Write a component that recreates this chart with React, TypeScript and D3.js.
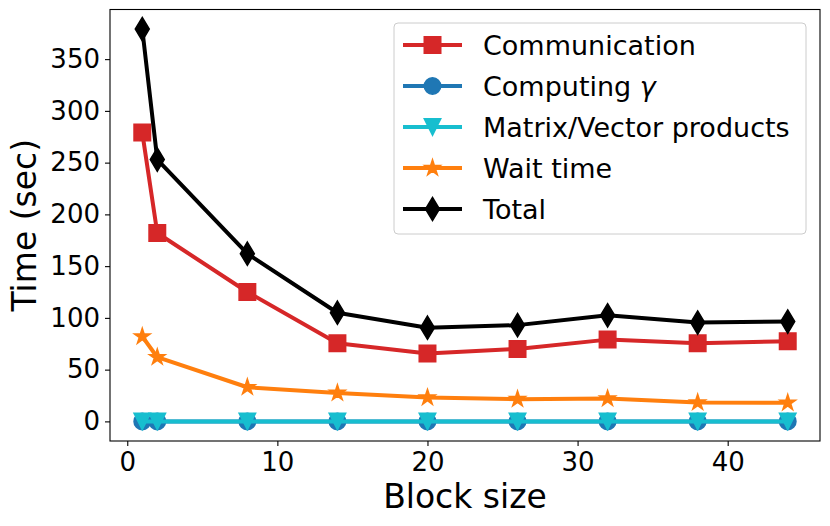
import { useEffect, useRef } from "react"
import * as d3 from "d3"

const WIDTH = 830
const HEIGHT = 526
const FONT = "'DejaVu Sans', sans-serif"

const blockSizes = [1, 2, 8, 14, 20, 26, 32, 38, 44]
const communication = [279, 182, 125, 75.5, 65.5, 70, 79, 75.5, 77.5]
const computingGamma = [0, 0, 0, 0, 0, 0, 0, 0, 0]
const matrixVector = [0, 0, 0, 0, 0, 0, 0, 0, 0]
const waitTime = [82, 62, 33, 27.5, 23, 21.5, 22, 18.3, 18]
const total = [379, 253, 162, 105, 90.5, 93, 102.5, 95.5, 96.5]

const xTicks = [0, 10, 20, 30, 40]
const yTicks = [0, 50, 100, 150, 200, 250, 300, 350]

type MarkerKind = "square" | "circle" | "triangleDown" | "star" | "thinDiamond"

interface Series {
  label: string
  values: number[]
  color: string
  marker: MarkerKind
}

const series: Series[] = [
  { label: "Communication", values: communication, color: "#d62728", marker: "square" },
  { label: "Computing γ", values: computingGamma, color: "#1f77b4", marker: "circle" },
  { label: "Matrix/Vector products", values: matrixVector, color: "#17becf", marker: "triangleDown" },
  { label: "Wait time", values: waitTime, color: "#ff7f0e", marker: "star" },
  { label: "Total", values: total, color: "#000000", marker: "thinDiamond" },
]

const MS = 16.5 // marker size in px

function markerPath(kind: MarkerKind, m: number): string {
  const h = m / 2
  switch (kind) {
    case "square":
      return `M${-h},${-h}H${h}V${h}H${-h}Z`
    case "circle": {
      const p = d3.path()
      p.arc(0, 0, h, 0, Math.PI * 2)
      p.closePath()
      return p.toString()
    }
    case "triangleDown":
      return `M0,${h}L${-h},${-h}L${h},${-h}Z`
    case "star": {
      const inner = h * 0.381966
      const pts: string[] = []
      for (let i = 0; i < 10; i++) {
        const r = i % 2 === 0 ? h : inner
        const a = -Math.PI / 2 + (i * Math.PI) / 5
        pts.push(`${r * Math.cos(a)},${r * Math.sin(a)}`)
      }
      return "M" + pts.join("L") + "Z"
    }
    case "thinDiamond": {
      const dy = m * 0.7071
      const dx = dy * 0.6
      return `M0,${-dy}L${dx},0L0,${dy}L${-dx},0Z`
    }
  }
}

export default function App() {
  const svgRef = useRef<SVGSVGElement | null>(null)

  useEffect(() => {
    document.body.style.margin = "0"
    if (!svgRef.current) return
    const svg = d3.select(svgRef.current)
    svg.selectAll("*").remove()

    const left = 110
    const right = 820
    const top = 9.5
    const bottom = 441

    const x = d3.scaleLinear().domain([-1.15, 46.15]).range([left, right])
    const y = d3.scaleLinear().domain([-18.95, 397.95]).range([bottom, top])

    svg.append("rect").attr("width", WIDTH).attr("height", HEIGHT).attr("fill", "white")

    const line = d3
      .line<number>()
      .x((_, i) => x(blockSizes[i]))
      .y((d) => y(d))

    series.forEach((s) => {
      const g = svg.append("g")
      g.append("path")
        .attr("d", line(s.values))
        .attr("fill", "none")
        .attr("stroke", s.color)
        .attr("stroke-width", 4)
        .attr("stroke-linejoin", "round")
        .attr("stroke-linecap", "square")
      g.selectAll("path.marker")
        .data(s.values)
        .join("path")
        .attr("class", "marker")
        .attr("d", markerPath(s.marker, MS))
        .attr("transform", (d, i) => `translate(${x(blockSizes[i])},${y(d)})`)
        .attr("fill", s.color)
        .attr("stroke", s.color)
        .attr("stroke-width", 1.5)
        .attr("stroke-linejoin", "miter")
    })

    // axes
    const xAxis = svg
      .append("g")
      .attr("transform", `translate(0,${bottom})`)
      .call(d3.axisBottom(x).tickValues(xTicks).tickSize(5).tickPadding(7).tickFormat(d3.format("d")))
    const yAxis = svg
      .append("g")
      .attr("transform", `translate(${left},0)`)
      .call(d3.axisLeft(y).tickValues(yTicks).tickSize(5).tickPadding(5).tickFormat(d3.format("d")))
    ;[xAxis, yAxis].forEach((a) => {
      a.select(".domain").remove()
      a.selectAll(".tick line").attr("stroke", "#000").attr("stroke-width", 1.1)
      a.selectAll(".tick text").attr("fill", "#000").style("font-family", FONT).style("font-size", "26px")
    })

    // frame
    svg
      .append("rect")
      .attr("x", left)
      .attr("y", top)
      .attr("width", right - left)
      .attr("height", bottom - top)
      .attr("fill", "none")
      .attr("stroke", "#000")
      .attr("stroke-width", 1.1)

    // axis labels
    svg
      .append("text")
      .attr("x", (left + right) / 2)
      .attr("y", 508)
      .attr("text-anchor", "middle")
      .style("font-family", FONT)
      .style("font-size", "33px")
      .text("Block size")
    svg
      .append("text")
      .attr("transform", `translate(36,${(top + bottom) / 2}) rotate(-90)`)
      .attr("text-anchor", "middle")
      .style("font-family", FONT)
      .style("font-size", "33px")
      .text("Time (sec)")

    // legend
    const legend = svg.append("g")
    legend
      .append("rect")
      .attr("x", 394)
      .attr("y", 23)
      .attr("width", 412)
      .attr("height", 211)
      .attr("rx", 4)
      .attr("fill", "white")
      .attr("fill-opacity", 0.8)
      .attr("stroke", "#cccccc")
      .attr("stroke-width", 1)
    series.forEach((s, i) => {
      const cy = 45 + i * 41
      const row = legend.append("g").attr("transform", `translate(0,${cy})`)
      row.append("line").attr("x1", 403).attr("x2", 462).attr("stroke", s.color).attr("stroke-width", 4)
      row
        .append("path")
        .attr("d", markerPath(s.marker, MS))
        .attr("transform", "translate(432.5,0)")
        .attr("fill", s.color)
        .attr("stroke", s.color)
        .attr("stroke-width", 1.5)
      const t = row
        .append("text")
        .attr("x", 483)
        .attr("dy", "0.36em")
        .style("font-family", FONT)
        .style("font-size", "27px")
      if (s.label.endsWith("γ")) {
        t.append("tspan").text(s.label.slice(0, -1))
        t.append("tspan").style("font-style", "italic").text("γ")
      } else {
        t.text(s.label)
      }
    })
  }, [])

  return (
    <div style={{ position: "absolute", left: 0, top: 0 }}>
      <svg ref={svgRef} width={WIDTH} height={HEIGHT} style={{ display: "block" }} />
    </div>
  )
}
